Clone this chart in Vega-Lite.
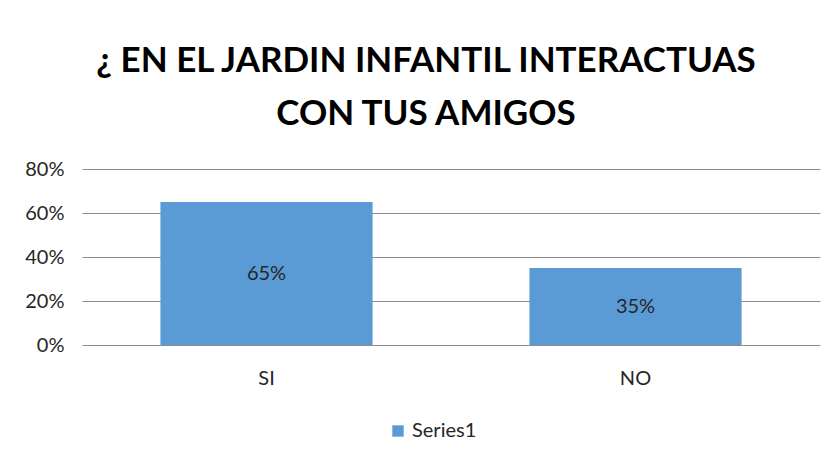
{
  "$schema": "https://vega.github.io/schema/vega-lite/v6.json",
  "autosize": "none",
  "width": 738,
  "height": 176,
  "padding": {"left": 82, "top": 169, "right": 13, "bottom": 116},
  "background": "white",
  "config": {
    "view": {"stroke": null},
    "font": "Lato, sans-serif"
  },
  "title": {
    "text": ["¿ EN EL JARDIN INFANTIL INTERACTUAS", "CON TUS AMIGOS"],
    "font": "Lato",
    "fontSize": 35,
    "fontWeight": "bold",
    "color": "#000000",
    "anchor": "middle",
    "dx": -25,
    "lineHeight": 53,
    "offset": 27
  },
  "data": {
    "values": [
      {"cat": "SI", "value": 0.65, "series": "Series1"},
      {"cat": "NO", "value": 0.35, "series": "Series1"}
    ]
  },
  "encoding": {
    "x": {
      "field": "cat",
      "type": "nominal",
      "sort": null,
      "scale": {"paddingInner": 0.425, "paddingOuter": 0.2125},
      "axis": {
        "title": null,
        "labelAngle": 0,
        "ticks": false,
        "domain": false,
        "labelFontSize": 20,
        "labelColor": "#262626",
        "labelPadding": 23,
        "labelFont": "Lato"
      }
    }
  },
  "layer": [
    {
      "mark": {"type": "bar", "color": "#5B9BD5"},
      "encoding": {
        "y": {
          "field": "value",
          "type": "quantitative",
          "scale": {"domain": [0, 0.8], "nice": false},
          "axis": {
            "title": null,
            "format": ".0%",
            "values": [0, 0.2, 0.4, 0.6, 0.8],
            "labelOverlap": false,
            "ticks": false,
            "domain": false,
            "grid": true,
            "gridColor": "#8c8c8c",
            "gridWidth": 1.2,
            "labelFontSize": 20,
            "labelColor": "#262626",
            "labelPadding": 18,
            "labelFont": "Lato"
          }
        },
        "color": {
          "field": "series",
          "type": "nominal",
          "scale": {"range": ["#5B9BD5"]},
          "legend": {
            "title": null,
            "orient": "none",
            "legendX": 306,
            "legendY": 252,
            "symbolType": "square",
            "symbolSize": 130,
            "symbolStrokeWidth": 0,
            "labelFontSize": 20,
            "labelColor": "#262626",
            "labelFont": "Lato"
          }
        }
      }
    },
    {
      "mark": {"type": "text", "fontSize": 20, "color": "#262626", "baseline": "middle", "font": "Lato"},
      "encoding": {
        "y": {"field": "value", "type": "quantitative", "scale": {"domain": [0, 1.6], "nice": false}, "axis": null},
        "text": {"field": "value", "type": "quantitative", "format": ".0%"}
      }
    }
  ],
  "resolve": {"scale": {"y": "independent"}, "axis": {"y": "independent"}}
}
